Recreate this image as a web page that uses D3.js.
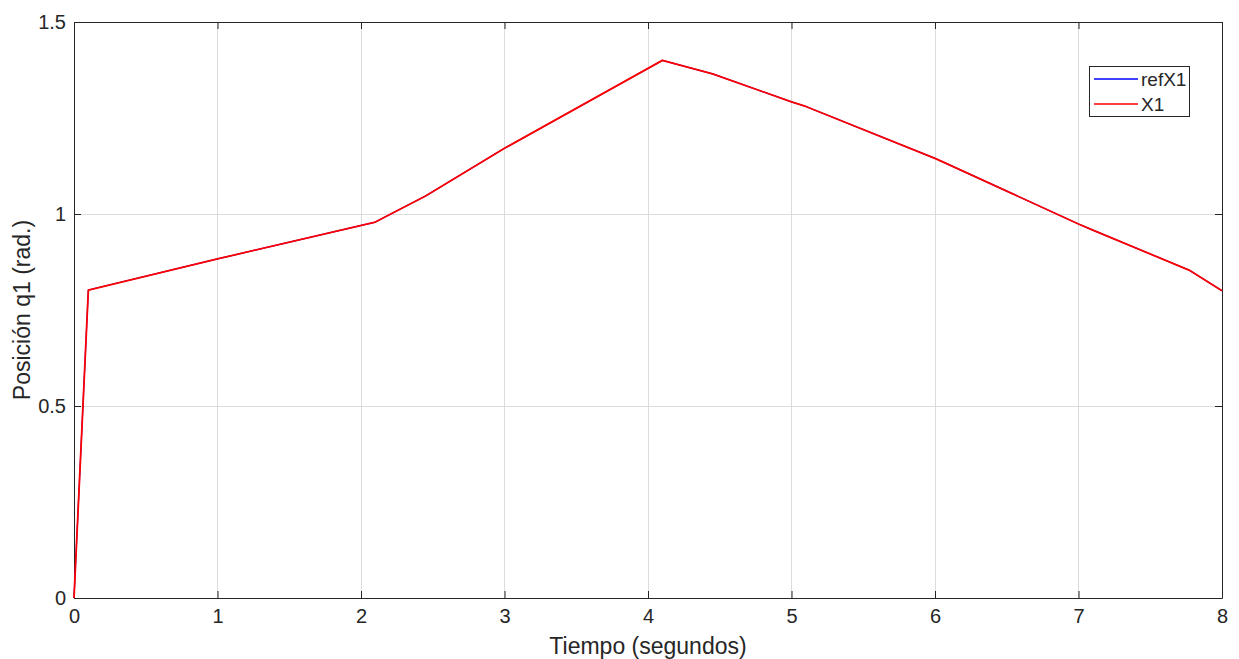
<!DOCTYPE html>
<html><head><meta charset="utf-8">
<script src="https://cdn.jsdelivr.net/npm/d3@7"></script>
<style>body{margin:0;background:#fff;}svg{display:block;font-family:"Liberation Sans",Arial,Helvetica,sans-serif;}</style>
</head><body>
<svg id="c" width="1239" height="659"></svg>
<script>
const timeS = [0, 0.1, 1, 2.1, 2.45, 3, 4.1, 4.45, 5, 5.1, 6, 6.1, 7, 7.1, 7.77, 8];
const refX1 = [0, 0.802, 0.883, 0.979, 1.047, 1.171, 1.400, 1.365, 1.292, 1.280, 1.145, 1.128, 0.974, 0.958, 0.854, 0.800];
const x1 = [0, 0.802, 0.883, 0.979, 1.047, 1.171, 1.400, 1.365, 1.292, 1.280, 1.145, 1.128, 0.974, 0.958, 0.854, 0.800];
const xTicks = [0,1,2,3,4,5,6,7,8];
const yTicks = [0,0.5,1,1.5];
const seriesNames = ["refX1","X1"];
const seriesColors = ["#0000ff","#ff0000"];

const svg = d3.select("#c");
const L=74, R=1222, T=22, B=598;
const x = d3.scaleLinear().domain([0,8]).range([L,R]);
const y = d3.scaleLinear().domain([0,1.5]).range([B,T]);
const axisCol="#262626";

// grid
const g = svg.append("g");
g.selectAll(".gx").data(xTicks).join("line").attr("x1",d=>x(d)).attr("x2",d=>x(d)).attr("y1",T).attr("y2",B).attr("stroke","#dcdcdc").attr("stroke-width",1).attr("shape-rendering","crispEdges");
g.selectAll(".gy").data(yTicks).join("line").attr("y1",d=>y(d)).attr("y2",d=>y(d)).attr("x1",L).attr("x2",R).attr("stroke","#dcdcdc").attr("stroke-width",1).attr("shape-rendering","crispEdges");

// axes with inward ticks
const tl = 7;
const xb = svg.append("g").attr("transform",`translate(0,${B})`).call(d3.axisBottom(x).tickValues(xTicks).tickFormat(d3.format("d")).tickSizeInner(-tl).tickSizeOuter(0).tickPadding(11));
const xt = svg.append("g").attr("transform",`translate(0,${T})`).call(d3.axisTop(x).tickValues(xTicks).tickFormat("").tickSizeInner(-tl).tickSizeOuter(0));
const yl = svg.append("g").attr("transform",`translate(${L},0)`).call(d3.axisLeft(y).tickValues(yTicks).tickFormat(d=>String(d)).tickSizeInner(-tl).tickSizeOuter(0).tickPadding(8));
const yr = svg.append("g").attr("transform",`translate(${R},0)`).call(d3.axisRight(y).tickValues(yTicks).tickFormat("").tickSizeInner(-tl).tickSizeOuter(0));
[xb,xt,yl,yr].forEach(a=>{
  a.select(".domain").attr("stroke",axisCol).attr("stroke-width",1);
  a.selectAll(".tick line").attr("stroke",axisCol);
  a.selectAll("text").attr("fill",axisCol).style("font-size","20px").style("font-family","'Liberation Sans',Arial,sans-serif");
});
xb.selectAll("text").attr("dy","0.71em");

// lines
const line = d3.line().x((d,i)=>x(timeS[i])).y(d=>y(d));
[refX1,x1].forEach((s,k)=>{
  svg.append("path").datum(s).attr("d",line).attr("fill","none").attr("stroke",seriesColors[k]).attr("stroke-width",k===0?1.2:1.8).attr("stroke-linejoin","round");
});

// labels
svg.append("text").attr("x",(L+R)/2).attr("y",654).attr("text-anchor","middle").attr("fill",axisCol).style("font-size","23px").text("Tiempo (segundos)");
svg.append("text").attr("transform",`translate(30,${(T+B)/2}) rotate(-90)`).attr("text-anchor","middle").attr("fill",axisCol).style("font-size","23px").text("Posición q1 (rad.)");

// legend
const lg = svg.append("g");
lg.append("rect").attr("x",1089.5).attr("y",66.5).attr("width",100).attr("height",50).attr("fill","#fff").attr("stroke",axisCol).attr("stroke-width",1);
seriesNames.forEach((n,k)=>{
  const yy = 79 + k*25;
  lg.append("line").attr("x1",1094).attr("x2",1138).attr("y1",yy).attr("y2",yy).attr("stroke",seriesColors[k]).attr("stroke-width",1.6);
  lg.append("text").attr("x",1141).attr("y",yy).attr("dy","0.35em").attr("fill",axisCol).style("font-size","19px").text(n);
});
</script>
</body></html>
